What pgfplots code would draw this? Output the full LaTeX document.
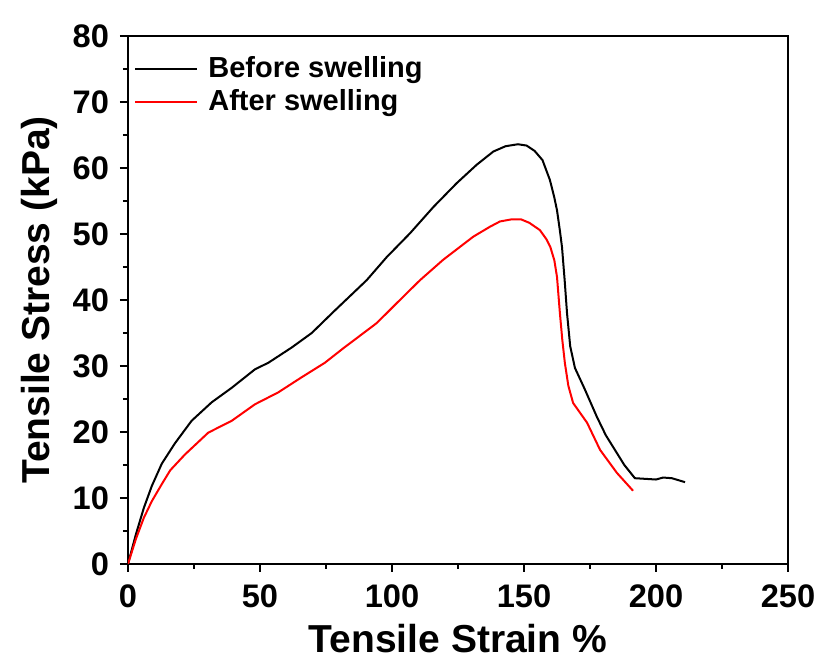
\documentclass[border=0pt]{standalone}
\usepackage{pgfplots}
\pgfplotsset{compat=1.18}
\usepackage{fontspec}
\setmainfont{Liberation Sans}
\begin{document}
\begin{tikzpicture}
\begin{axis}[
  at={(0,0)}, anchor=south west,
  scale only axis,
  width=330pt, height=264pt,
  xmin=0, xmax=250, ymin=0, ymax=80,
  xtick={0,50,100,150,200,250},
  ytick={0,10,20,30,40,50,60,70,80},
  minor xtick={25,75,125,175,225},
  minor ytick={5,15,25,35,45,55,65,75},
  tick pos=left,
  tick align=outside,
  major tick length=4pt,
  minor tick length=2.5pt,
  every tick/.style={line width=1.2pt, black},
  axis line style={line width=1.3pt},
  /pgf/number format/assume math mode=true,
  ticklabel style={font=\fontsize{16.3}{16.3}\selectfont\bfseries},
  xticklabel style={yshift=-3pt},
  yticklabel style={xshift=-2pt},
  xlabel={Tensile Strain \%},
  ylabel={Tensile Stress (kPa)},
  label style={font=\fontsize{19.5}{19.5}\selectfont\bfseries},
  xlabel style={at={(axis description cs:0.5,0)}, anchor=base, yshift=-44.5pt},
  ylabel style={at={(axis description cs:0,0.5)}, anchor=base, rotate=0, yshift=39pt},
  legend style={draw=none, fill=none, at={(0.009,0.969)}, anchor=north west,
    font=\fontsize{14.5}{14.5}\selectfont\bfseries, row sep=0.5pt,
    legend cell align=left, inner sep=0pt,
    nodes={inner xsep=5pt}},
  legend image code/.code={\draw[#1] (0pt,0pt) -- (31pt,0pt);},
]
\addplot[black, line width=1pt] coordinates {
(0,0) (3,4.5) (6,8.5) (9,11.8) (12.8,15.2) (17.8,18.3) (24.1,21.7) (31.7,24.5)
(39.3,26.7) (48.1,29.5) (53.2,30.5) (62,32.8) (69.6,35.0) (77.8,38.2) (90.4,43.0)
(98,46.5) (106.8,50.1) (115.7,54.1) (124.5,57.7) (132.1,60.5) (138.4,62.5)
(143,63.3) (147.7,63.6) (151,63.4) (154,62.6) (157,61.2) (159.8,58.2) (161.5,55.5) (162.5,53.6)
(163.6,50.5) (164.4,48) (165.4,43) (166.3,38) (167.5,33) (169.3,29.7) (173,26.5) (177.6,22.3) (181,19.5) (185.2,16.8)
(188,15) (192,13.0) (196,12.9) (200,12.8) (202.7,13.1) (206,13.0) (211,12.4)
};
\addlegendentry{Before swelling}
\addplot[red, line width=1pt] coordinates {
(0,0) (3,3.8) (6,7) (9,9.5) (12.8,12.1) (16,14.2) (21.6,16.6) (30.4,19.9)
(39.3,21.7) (48.1,24.2) (56.9,26.0) (65.8,28.3) (74.6,30.5) (81.6,32.7)
(94.2,36.5) (103,40.0) (110.6,43.0) (119.4,46.1) (130.8,49.6) (137.1,51.1)
(140.9,51.9) (145,52.2) (149,52.2) (152,51.7) (156,50.6) (158.5,49.2) (160,48) (161.5,46) (162.5,43.5)
(163.6,38) (164.5,34) (165.5,30.4) (166.8,27) (168.6,24.4) (173.9,21.4) (178.8,17.3) (185.2,13.8)
(191.3,11.1)
};
\addlegendentry{After swelling}
\end{axis}
\pgfresetboundingbox
\path (-64pt,-49pt) rectangle (345.5pt,282pt);
\end{tikzpicture}
\end{document}
